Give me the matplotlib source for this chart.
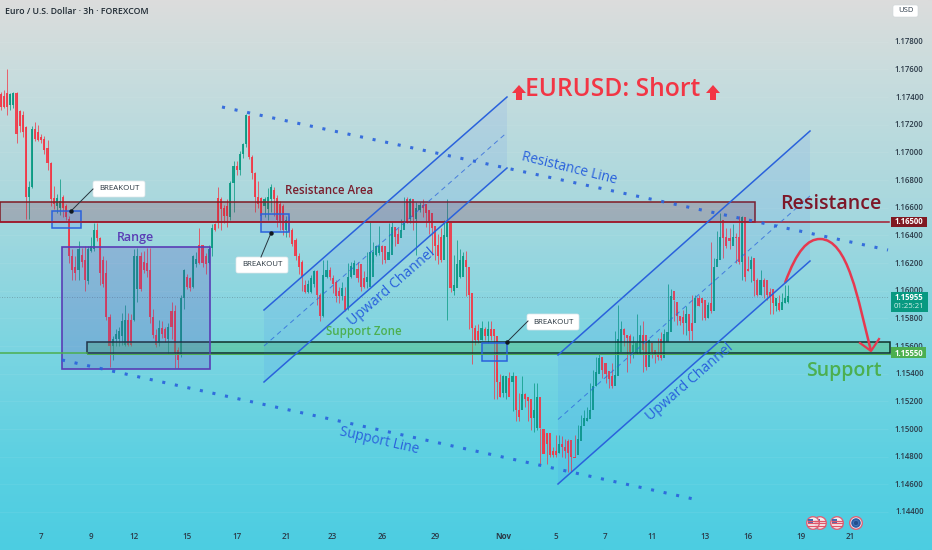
import numpy as np
import matplotlib
matplotlib.use("Agg")
import matplotlib.pyplot as plt
from matplotlib.patches import Rectangle, FancyBboxPatch, Polygon, Circle, PathPatch
from matplotlib.path import Path

plt.rcParams["font.family"] = ["Open Sans", "DejaVu Sans"]

# 3h candles
opens = [
    1.1742,1.1741,1.1743,1.1734,1.1734,1.1743,1.1730,1.1727,1.1718,1.1668,
    1.1675,1.1717,1.1715,1.1711,1.1710,1.1703,1.1692,1.1667,1.1661,1.1660,
    1.1668,1.1661,1.1652,1.1625,1.1617,1.1615,1.1626,1.1622,1.1607,1.1629,
    1.1630,1.1644,1.1638,1.1622,1.1613,1.1581,1.1560,1.1565,1.1565,1.1567,
    1.1561,1.1579,1.1579,1.1579,1.1601,1.1625,1.1621,1.1620,1.1615,1.1581,
    1.1568,1.1562,1.1573,1.1572,1.1565,1.1585,1.1585,1.1557,1.1554,1.1595,
    1.1610,1.1609,1.1603,1.1619,1.1633,1.1633,1.1625,1.1620,1.1631,1.1648,
    1.1667,1.1666,1.1660,1.1661,1.1653,1.1678,1.1690,1.1687,1.1699,1.1706,
    1.1726,1.1697,1.1685,1.1668,1.1667,1.1661,1.1659,1.1666,1.1673,1.1667,
    1.1663,1.1661,1.1644,1.1651,1.1644,1.1637,1.1625,1.1621,
    1.1604,1.1599,1.1599,1.1605,1.1614,1.1597,1.1582,1.1610,1.1615,1.1609,
    1.1606,1.1600,1.1596,1.1596,1.1587,1.1610,1.1611,1.1616,1.1619,1.1609,
    1.1606,1.1603,1.1610,1.1626,1.1627,1.1632,1.1632,1.1622,1.1626,1.1646,
    1.1641,1.1638,1.1644,1.1666,1.1652,1.1666,1.1652,1.1658,1.1662,1.1663,
    1.1658,1.1656,1.1647,1.1633,1.1639,1.1622,1.1639,1.1649,1.1600,1.1602,
    1.1610,1.1610,1.1622,1.1617,1.1598,1.1573,1.1571,1.1564,1.1572,1.1567,
    1.1572,1.1572,1.1567,1.1534,1.1526,1.1526,1.1537,1.1534,1.1538,1.1514,
    1.1514,1.1525,1.1523,1.1522,1.1508,1.1501,1.1523,
    1.1500,1.1497,1.1497,1.1484,1.1484,1.1483,1.1489,1.1487,1.1491,1.1492,
    1.1480,1.1481,1.1491,1.1502,1.1506,1.1507,1.1514,1.1531,1.1540,1.1552,
    1.1548,1.1542,1.1538,1.1531,1.1538,1.1556,1.1572,1.1568,1.1567,1.1555,
    1.1555,1.1555,1.1568,1.1568,1.1545,1.1562,1.1557,1.1554,1.1565,1.1551,
    1.1563,1.1570,1.1600,1.1592,1.1582,1.1581,1.1577,1.1583,1.1577,1.1577,
    1.1595,1.1595,1.1593,1.1580,1.1591,1.1585,1.1617,1.1622,1.1651,1.1639,
    1.1638,1.1632,1.1639,1.1639,1.1621,1.1653,1.1616,1.1616,1.1624,1.1608,
    1.1597,1.1608,1.1608,1.1599,1.1601,1.1589,1.1591,1.1586,1.1591,1.1592,
]
closes = [
    1.1733,1.1733,1.1733,1.1742,1.1743,1.1713,1.1719,1.1715,1.1668,1.1675,
    1.1717,1.1710,1.1709,1.1709,1.1702,1.1692,1.1666,1.1663,1.1667,1.1665,
    1.1660,1.1653,1.1625,1.1615,1.1613,1.1630,1.1621,1.1608,1.1630,1.1632,
    1.1644,1.1638,1.1613,1.1605,1.1581,1.1560,1.1565,1.1569,1.1571,1.1578,
    1.1579,1.1561,1.1561,1.1625,1.1625,1.1601,1.1615,1.1614,1.1581,1.1568,
    1.1561,1.1573,1.1569,1.1566,1.1574,1.1574,1.1555,1.1550,1.1595,1.1615,
    1.1603,1.1602,1.1625,1.1623,1.1620,1.1620,1.1619,1.1630,1.1645,1.1644,
    1.1649,1.1659,1.1654,1.1654,1.1678,1.1690,1.1687,1.1699,1.1706,1.1727,
    1.1697,1.1685,1.1668,1.1663,1.1654,1.1666,1.1668,1.1675,1.1666,1.1651,
    1.1649,1.1644,1.1651,1.1643,1.1634,1.1625,1.1617,1.1610,
    1.1599,1.1605,1.1609,1.1614,1.1597,1.1582,1.1611,1.1615,1.1610,1.1605,
    1.1596,1.1596,1.1602,1.1586,1.1610,1.1618,1.1620,1.1609,1.1603,1.1603,
    1.1610,1.1628,1.1628,1.1632,1.1632,1.1628,1.1622,1.1628,1.1646,1.1639,
    1.1634,1.1644,1.1650,1.1650,1.1666,1.1653,1.1660,1.1662,1.1660,1.1656,
    1.1650,1.1645,1.1632,1.1625,1.1622,1.1640,1.1650,1.1602,1.1604,1.1619,
    1.1622,1.1625,1.1617,1.1597,1.1573,1.1564,1.1564,1.1573,1.1567,1.1572,
    1.1567,1.1567,1.1534,1.1523,1.1538,1.1538,1.1523,1.1538,1.1514,1.1509,
    1.1525,1.1522,1.1520,1.1508,1.1514,1.1523,1.1501,
    1.1482,1.1489,1.1481,1.1481,1.1481,1.1489,1.1487,1.1484,1.1483,1.1480,
    1.1479,1.1493,1.1502,1.1508,1.1508,1.1514,1.1531,1.1541,1.1551,1.1543,
    1.1540,1.1536,1.1531,1.1539,1.1565,1.1572,1.1568,1.1566,1.1556,1.1561,
    1.1562,1.1568,1.1557,1.1545,1.1564,1.1556,1.1554,1.1552,1.1551,1.1569,
    1.1570,1.1596,1.1593,1.1582,1.1578,1.1577,1.1583,1.1571,1.1571,1.1595,
    1.1589,1.1591,1.1580,1.1590,1.1585,1.1617,1.1623,1.1639,1.1638,1.1632,
    1.1636,1.1639,1.1638,1.1621,1.1653,1.1610,1.1614,1.1622,1.1607,1.1597,
    1.1608,1.1603,1.1597,1.1596,1.1591,1.1595,1.1586,1.1592,1.1595,1.1596,
]
highs = [
    1.1744,1.1745,1.1760,1.1743,1.1744,1.1744,1.1731,1.1730,1.1719,1.1679,
    1.1719,1.1722,1.1720,1.1713,1.1712,1.1709,1.1693,1.1676,1.1670,1.1681,
    1.1669,1.1663,1.1654,1.1630,1.1625,1.1636,1.1631,1.1632,1.1632,1.1639,
    1.1649,1.1649,1.1639,1.1625,1.1622,1.1583,1.1567,1.1572,1.1574,1.1584,
    1.1590,1.1584,1.1583,1.1630,1.1631,1.1628,1.1629,1.1631,1.1631,1.1587,
    1.1572,1.1579,1.1578,1.1574,1.1577,1.1592,1.1590,1.1559,1.1597,1.1616,
    1.1612,1.1610,1.1626,1.1628,1.1645,1.1633,1.1627,1.1633,1.1648,1.1649,
    1.1675,1.1668,1.1662,1.1666,1.1679,1.1694,1.1694,1.1701,1.1707,1.1728,
    1.1727,1.1698,1.1686,1.1679,1.1668,1.1668,1.1674,1.1677,1.1675,1.1669,
    1.1665,1.1663,1.1654,1.1654,1.1645,1.1638,1.1627,1.1622,
    1.1608,1.1608,1.1611,1.1615,1.1615,1.1598,1.1622,1.1622,1.1617,1.1611,
    1.1608,1.1603,1.1606,1.1603,1.1620,1.1621,1.1622,1.1621,1.1611,1.1614,
    1.1628,1.1650,1.1635,1.1633,1.1647,1.1633,1.1632,1.1649,1.1650,1.1646,
    1.1645,1.1652,1.1668,1.1668,1.1667,1.1663,1.1664,1.1664,1.1666,1.1663,
    1.1658,1.1649,1.1640,1.1641,1.1645,1.1651,1.1666,1.1606,1.1626,1.1637,
    1.1630,1.1628,1.1629,1.1599,1.1576,1.1575,1.1576,1.1578,1.1574,1.1578,
    1.1578,1.1568,1.1544,1.1540,1.1539,1.1538,1.1541,1.1541,1.1516,1.1526,
    1.1538,1.1526,1.1523,1.1516,1.1533,1.1533,1.1501,
    1.1497,1.1497,1.1490,1.1487,1.1496,1.1496,1.1495,1.1493,1.1493,1.1481,
    1.1496,1.1503,1.1510,1.1514,1.1516,1.1533,1.1543,1.1552,1.1554,1.1552,
    1.1543,1.1539,1.1548,1.1571,1.1590,1.1578,1.1573,1.1568,1.1569,1.1567,
    1.1583,1.1575,1.1578,1.1565,1.1565,1.1558,1.1557,1.1566,1.1570,1.1572,
    1.1605,1.1601,1.1593,1.1587,1.1582,1.1586,1.1589,1.1581,1.1597,1.1597,
    1.1597,1.1594,1.1591,1.1592,1.1635,1.1624,1.1643,1.1656,1.1642,1.1645,
    1.1645,1.1648,1.1642,1.1654,1.1654,1.1624,1.1625,1.1625,1.1615,1.1609,
    1.1615,1.1609,1.1600,1.1602,1.1596,1.1592,1.1597,1.1598,1.1604,1.1604,
]
lows = [
    1.1731,1.1732,1.1727,1.1731,1.1732,1.1707,1.1715,1.1711,1.1652,1.1652,
    1.1674,1.1708,1.1708,1.1707,1.1699,1.1687,1.1661,1.1659,1.1656,1.1655,
    1.1653,1.1651,1.1620,1.1608,1.1608,1.1608,1.1617,1.1600,1.1605,1.1628,
    1.1629,1.1636,1.1604,1.1603,1.1579,1.1545,1.1550,1.1560,1.1560,1.1561,
    1.1560,1.1560,1.1560,1.1578,1.1592,1.1600,1.1613,1.1610,1.1577,1.1566,
    1.1559,1.1560,1.1566,1.1563,1.1555,1.1565,1.1544,1.1544,1.1552,1.1587,
    1.1601,1.1600,1.1602,1.1617,1.1619,1.1617,1.1612,1.1619,1.1625,1.1643,
    1.1645,1.1644,1.1649,1.1646,1.1651,1.1657,1.1684,1.1684,1.1696,1.1704,
    1.1695,1.1681,1.1657,1.1660,1.1651,1.1653,1.1651,1.1657,1.1654,1.1646,
    1.1644,1.1640,1.1639,1.1639,1.1632,1.1622,1.1612,1.1600,
    1.1598,1.1598,1.1598,1.1603,1.1590,1.1578,1.1581,1.1609,1.1608,1.1598,
    1.1592,1.1591,1.1593,1.1585,1.1586,1.1609,1.1614,1.1606,1.1600,1.1602,
    1.1602,1.1608,1.1621,1.1625,1.1626,1.1619,1.1620,1.1625,1.1634,1.1632,
    1.1637,1.1643,1.1647,1.1649,1.1649,1.1644,1.1626,1.1657,1.1653,1.1646,
    1.1641,1.1626,1.1622,1.1619,1.1621,1.1638,1.1579,1.1599,1.1597,1.1607,
    1.1609,1.1615,1.1596,1.1572,1.1547,1.1561,1.1562,1.1564,1.1564,1.1562,
    1.1564,1.1522,1.1522,1.1523,1.1523,1.1522,1.1532,1.1513,1.1506,1.1506,
    1.1521,1.1516,1.1506,1.1499,1.1498,1.1499,1.1475,
    1.1483,1.1475,1.1480,1.1480,1.1480,1.1483,1.1480,1.1479,1.1469,1.1469,
    1.1480,1.1490,1.1500,1.1505,1.1506,1.1513,1.1527,1.1531,1.1541,1.1537,
    1.1533,1.1530,1.1530,1.1537,1.1555,1.1563,1.1560,1.1541,1.1548,1.1551,
    1.1554,1.1554,1.1541,1.1543,1.1552,1.1551,1.1548,1.1550,1.1550,1.1562,
    1.1569,1.1584,1.1578,1.1575,1.1575,1.1569,1.1568,1.1564,1.1564,1.1588,
    1.1589,1.1579,1.1579,1.1580,1.1584,1.1607,1.1621,1.1632,1.1624,1.1631,
    1.1630,1.1636,1.1620,1.1619,1.1608,1.1607,1.1614,1.1606,1.1596,1.1596,
    1.1597,1.1595,1.1593,1.1583,1.1583,1.1585,1.1585,1.1589,1.1591,1.1591,
]

price_ticks = [1.178,1.176,1.174,1.172,1.170,1.168,1.166,1.164,1.162,1.160,
               1.158,1.156,1.154,1.152,1.150,1.148,1.146,1.144]
date_labels = ["7","9","12","15","17","21","23","26","29","Nov","5","7","11","13","16","19","21"]
date_bars = [13,29,43,60,76,92,107,123,140,162,179,195,210,227,241,258,274]

last_price = 1.15955
countdown = "01:25:21"
resistance_price = 1.1650
support_price = 1.1555

C_UP = "#089981"
C_DOWN = "#f23645"
C_BLUE = "#2a62dc"
C_MAROON = "#801922"
C_GREEN = "#4caf50"
C_TEXT = "#2b3a48"

W, H = 932, 550
fig = plt.figure(figsize=(W / 100, H / 100), dpi=100)

# background gradient
bg = fig.add_axes([0, 0, 1, 1], zorder=0)
stops = np.array([[220,220,220],[205,221,221],[170,216,222],[125,213,225],[90,208,226],[76,205,225]]) / 255
pos = np.array([0, .1, .36, .62, .85, 1])
grad = np.stack([np.interp(np.linspace(0, 1, 256), pos, stops[:, k]) for k in range(3)], axis=1)
bg.imshow(grad[:, None, :], aspect="auto", extent=[0, 1, 0, 1])
bg.axis("off")

# price axis, covers the whole figure so the scale runs under the labels too
ax = fig.add_axes([0, 0, 1, 1], zorder=1)
ax.patch.set_alpha(0)
ax.set_xlim(-1 / 3.1, (W - 1) / 3.1)
ax.set_ylim(1.144 + (512 - H) * 7.23e-5, 1.144 + 512 * 7.23e-5)
ax.axis("off")

o, c, hi, lo = map(np.array, (opens, closes, highs, lows))
n = np.arange(len(o))
up = c >= o
cols = np.where(up, C_UP, C_DOWN)
ax.hlines(price_ticks, -1, 286, color="white", lw=0.6, alpha=0.07, zorder=1)
ax.hlines(last_price, -1, 286, color="#5f7f88", lw=0.6, ls=(0, (1, 2)), alpha=0.7, zorder=1)
ax.vlines(n, lo, hi, color=cols, lw=0.7, alpha=0.75, zorder=2)
ax.bar(n, np.abs(c - o), bottom=np.minimum(o, c), width=0.68, color=cols, lw=0, alpha=0.9, zorder=3)

# drawing layer in screen pixels, the way the tools sit on the chart
dr = fig.add_axes([0, 0, 1, 1], zorder=2)
dr.set_xlim(0, W)
dr.set_ylim(H, 0)
dr.patch.set_alpha(0)
dr.axis("off")

# resistance / support zones
dr.add_patch(Rectangle((0, 202), 755, 20, fc=(0.53, 0.1, 0.2, 0.22), ec=C_MAROON, lw=1.1))
dr.plot([0, 889], [222, 222], color="#a51a2e", lw=1.1)
dr.add_patch(Rectangle((87, 342), 803, 11, fc=(0.25, 0.72, 0.4, 0.38), ec="#10302a", lw=1.1))
dr.plot([0, 87], [353, 353], color=C_GREEN, lw=1.1)
dr.plot([87, 890], [354, 354], color=C_GREEN, lw=0.7)

# range box
dr.add_patch(Rectangle((62, 247), 148, 122, fc=(0.36, 0.25, 0.72, 0.22), ec="#5a3db5", lw=1.2))
dr.text(136, 237, "Range", color="#5a3db5", fontsize=9, ha="center", va="center", fontweight="semibold")

# channels
def channel(x0, x1, up0, up1, lo0, lo1):
    dr.add_patch(Polygon([(x0, up0), (x1, up1), (x1, lo1), (x0, lo0)], fc=(0.16, 0.38, 1, 0.08), ec="none"))
    dr.plot([x0, x1], [up0, up1], color=C_BLUE, lw=1.1)
    dr.plot([x0, x1], [lo0, lo1], color=C_BLUE, lw=1.1)
    dr.plot([x0, x1], [(up0 + lo0) / 2, (up1 + lo1) / 2], color=C_BLUE, lw=0.7, ls=(0, (5, 4)), alpha=0.75)

channel(264, 507, 310, 97, 382, 168)
channel(558, 810, 355, 131, 484, 261)

dr.plot([222, 888], [107, 250], color=C_BLUE, lw=2.2, ls=(0, (1, 3.2)), alpha=0.9)
dr.plot([62, 698], [360, 500], color=C_BLUE, lw=2.2, ls=(0, (1, 3.2)), alpha=0.9)

# breakout boxes and callouts
for x0, y0, w, h in [(52, 211, 29, 17), (261, 214, 28, 18), (482, 343, 25, 18)]:
    dr.add_patch(Rectangle((x0, y0), w, h, fc=(0.16, 0.38, 1, 0.14), ec=C_BLUE, lw=1.1))

callouts = [(119, 189, 93, 189, 71, 211), (262, 265, 261, 257, 271, 233), (553, 322, 528, 321, 507, 342)]
for tx, ty, lx, ly, dx, dy in callouts:
    dr.plot([lx, dx], [ly, dy], color="#26333d", lw=0.7)
    dr.plot(dx, dy, "o", color="#10181f", ms=2.2)
    dr.add_patch(FancyBboxPatch((tx - 25, ty - 7), 50, 14, boxstyle="round,pad=1,rounding_size=2",
                                fc="white", ec="#dfe6ea", lw=0.5))
    dr.text(tx, ty, "BREAKOUT", fontsize=5.7, color="#26333d", ha="center", va="center")

# labels
dr.text(329, 191, "Resistance Area", color="#7a1f2e", fontsize=8.3, ha="center", va="center", fontweight="semibold")
dr.text(364, 332, "Support Zone", color=C_GREEN, fontsize=8.3, ha="center", va="center", fontweight="semibold")
dr.text(392, 287, "Upward Channel", color=C_BLUE, fontsize=10.2, rotation=41, ha="center", va="center", rotation_mode="anchor")
dr.text(690, 382, "Upward Channel", color=C_BLUE, fontsize=10.2, rotation=41, ha="center", va="center", rotation_mode="anchor")
dr.text(569, 168, "Resistance Line", color=C_BLUE, fontsize=9.8, rotation=-14, ha="center", va="center", rotation_mode="anchor")
dr.text(379, 441, "Support Line", color=C_BLUE, fontsize=9.8, rotation=-13, ha="center", va="center", rotation_mode="anchor")
dr.text(831, 204, "Resistance", color="#7d1728", fontsize=14, ha="center", va="center", fontweight="semibold")
dr.text(844, 371, "Support", color=C_GREEN, fontsize=14, ha="center", va="center", fontweight="semibold")
dr.text(613, 90, "EURUSD: Short", color=C_DOWN, fontsize=17.7, ha="center", va="center", fontweight="semibold")

for ax_x in (519, 713):
    dr.add_patch(Polygon([(ax_x, 85), (ax_x + 7, 93), (ax_x + 3, 93), (ax_x + 3, 100),
                          (ax_x - 3, 100), (ax_x - 3, 93), (ax_x - 7, 93)], fc=C_DOWN, ec="none"))

# projected move
curve = Path([(785, 283), (797, 250), (808, 239), (820, 239), (848, 239), (858, 300), (871, 351)],
             [Path.MOVETO, Path.CURVE4, Path.CURVE4, Path.CURVE4, Path.CURVE4, Path.CURVE4, Path.CURVE4])
dr.add_patch(PathPatch(curve, fc="none", ec="#e63950", lw=1.8))
dr.plot([860, 871, 879], [343, 351, 339], color="#e63950", lw=1.6)

# price scale
for p in price_ticks:
    ax.text(293.0, p, f"{p:.5f}", fontsize=5.6, color=C_TEXT, ha="center", va="center", fontweight="semibold")

dr.add_patch(FancyBboxPatch((893, 5), 25, 12, boxstyle="round,pad=0,rounding_size=2", fc="white", ec="#cfd6da", lw=0.4))
dr.text(905.5, 11, "USD", fontsize=5.5, color=C_TEXT, ha="center", va="center")

dr.add_patch(Rectangle((891, 217), 36, 10, fc=C_MAROON, ec="none"))
dr.text(909, 222, f"{resistance_price:.5f}", fontsize=5.6, color="white", ha="center", va="center", fontweight="bold")
dr.add_patch(Rectangle((891, 347), 35, 11, fc=C_GREEN, ec="none"))
dr.text(908.5, 353, f"{support_price:.5f}", fontsize=5.6, color="white", ha="center", va="center", fontweight="bold")
dr.add_patch(Rectangle((891, 292), 37, 20, fc=C_UP, ec="none"))
dr.text(909, 297, f"{last_price:.5f}", fontsize=5.6, color="white", ha="center", va="center", fontweight="bold")
dr.text(909, 306, countdown, fontsize=5.6, color="#d5f0ea", ha="center", va="center")

# time scale
for b, lab in zip(date_bars, date_labels):
    ax.text(b, 1.144 + (512 - 537) * 7.23e-5, lab, fontsize=5.8, color=C_TEXT, ha="center", va="center",
            fontweight="bold" if lab == "Nov" else "semibold")

dr.text(5, 11, "Euro / U.S. Dollar · 3h · FOREXCOM", fontsize=6.3, color="#1f2a33", ha="left", va="center", fontweight="semibold")

# economic event badges
def flag(x, y, eu=False):
    dr.add_patch(Circle((x, y), 6.3, fc="#f6eeee", ec="#d9657a", lw=1.0))
    if eu:
        dr.add_patch(Circle((x, y), 4.8, fc="#2b5fa8", ec="none"))
        dr.add_patch(Circle((x, y), 2.6, fc="#234e8e", ec="#4a7fc0", lw=0.5))
    else:
        for dy in (-2.5, 0, 2.5):
            dr.plot([x - 5, x + 5], [y + dy, y + dy], color="#e0566a", lw=0.9)
        dr.add_patch(Rectangle((x - 5, y - 4.5), 5, 4.5, fc="#3b6cb5", ec="none"))

flag(820, 523)
flag(813, 523)
flag(837, 523)
flag(856, 523, eu=True)

fig.savefig("out.png", dpi=100)
